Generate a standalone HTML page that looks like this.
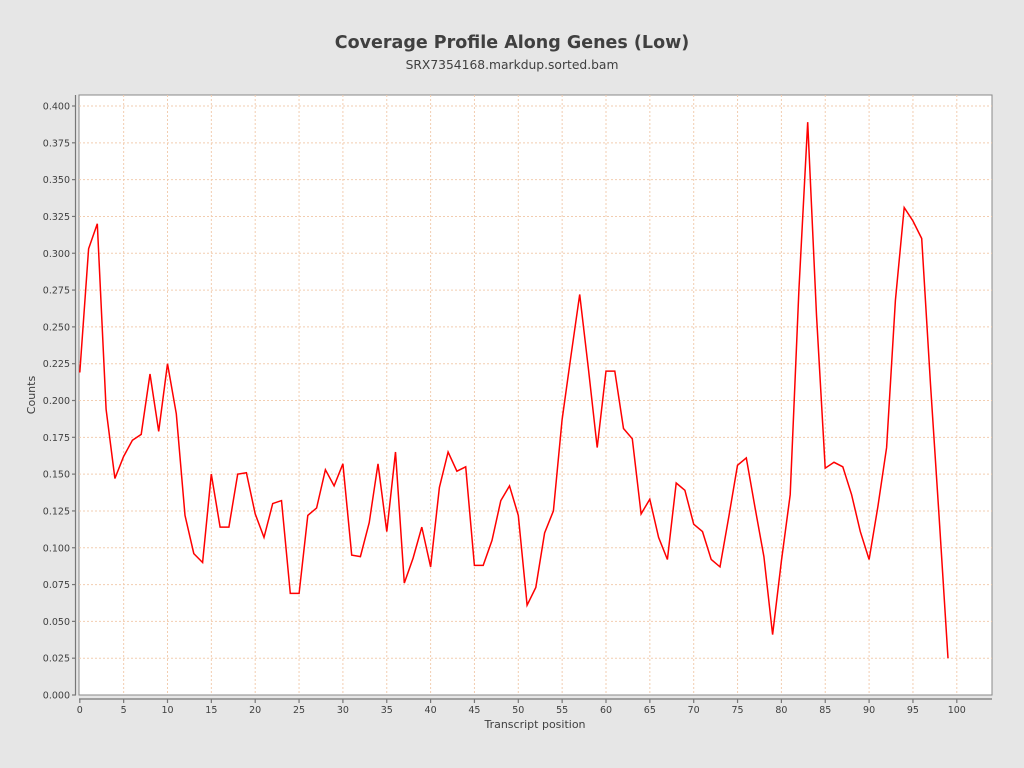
<!DOCTYPE html>
<html><head><style>body{margin:0;background:#e6e6e6;}svg{display:block;font-family:"DejaVu Sans","Liberation Sans",sans-serif;}</style></head>
<body>
<svg width="1024" height="768" xmlns="http://www.w3.org/2000/svg">
<rect width="1024" height="768" fill="#e6e6e6"/>
<text x="512" y="48" text-anchor="middle" font-size="17.5" font-weight="bold" fill="#404040">Coverage Profile Along Genes (Low)</text>
<text x="512" y="69" text-anchor="middle" font-size="12.3" fill="#404040">SRX7354168.markdup.sorted.bam</text>
<rect x="79" y="95" width="913" height="600" fill="#fff" stroke="#888" stroke-width="1"/>
<g id="grid" stroke="#f2cdb0" stroke-dasharray="2,2" stroke-width="1"></g>
<g id="axes" stroke="#777" stroke-width="1.2"></g>
<g id="labels" font-size="9.5" fill="#404040"></g>
<text x="535" y="728" text-anchor="middle" font-size="11" fill="#404040">Transcript position</text>
<text x="35" y="395" text-anchor="middle" font-size="11" fill="#404040" transform="rotate(-90 35 395)">Counts</text>
<polyline id="line" fill="none" stroke="#ff0000" stroke-width="1.5"/>
<script>
var ns="http://www.w3.org/2000/svg";
function X(v){return 79.8+v*8.77;}function Y(v){return 695-v*1472.5;}
var g=document.getElementById('grid'),a=document.getElementById('axes'),l=document.getElementById('labels');
function mk(p,t,at,txt){var e=document.createElementNS(ns,t);for(var k in at)e.setAttribute(k,at[k]);if(txt!==undefined)e.textContent=txt;p.appendChild(e);}
for(var i=0;i<=100;i+=5){var x=X(i);if(i>0)mk(g,'line',{x1:x,x2:x,y1:95,y2:695});mk(a,'line',{x1:x,x2:x,y1:699,y2:703});mk(l,'text',{x:x,y:713,'text-anchor':'middle'},String(i));}
for(var j=0;j<=16;j++){var v=j*0.025,y=Y(v);if(j>0)mk(g,'line',{x1:79,x2:992,y1:y,y2:y});mk(a,'line',{x1:72,x2:76,y1:y,y2:y});mk(l,'text',{x:70,y:y+3.5,'text-anchor':'end'},v.toFixed(3));}
mk(a,'line',{x1:75.5,x2:75.5,y1:95,y2:695});mk(a,'line',{x1:79,x2:992,y1:699,y2:699});
var d=[0.219,0.303,0.320,0.194,0.147,0.162,0.173,0.177,0.218,0.179,0.225,0.191,0.122,0.096,0.090,0.150,0.114,0.114,0.150,0.151,0.123,0.107,0.130,0.132,0.069,0.069,0.122,0.127,0.153,0.142,0.157,0.095,0.094,0.117,0.157,0.111,0.165,0.076,0.093,0.114,0.087,0.141,0.165,0.152,0.155,0.088,0.088,0.105,0.132,0.142,0.122,0.061,0.073,0.110,0.125,0.187,0.230,0.272,0.221,0.168,0.220,0.220,0.181,0.174,0.123,0.133,0.107,0.092,0.144,0.139,0.116,0.111,0.092,0.087,0.121,0.156,0.161,0.127,0.094,0.041,0.091,0.136,0.275,0.389,0.258,0.154,0.158,0.155,0.136,0.111,0.092,0.128,0.168,0.268,0.331,0.322,0.310,0.211,0.119,0.025];
document.getElementById('line').setAttribute('points',d.map(function(v,i){return X(i).toFixed(1)+','+Y(v).toFixed(1);}).join(' '));
</script>
</svg>
</body></html>
